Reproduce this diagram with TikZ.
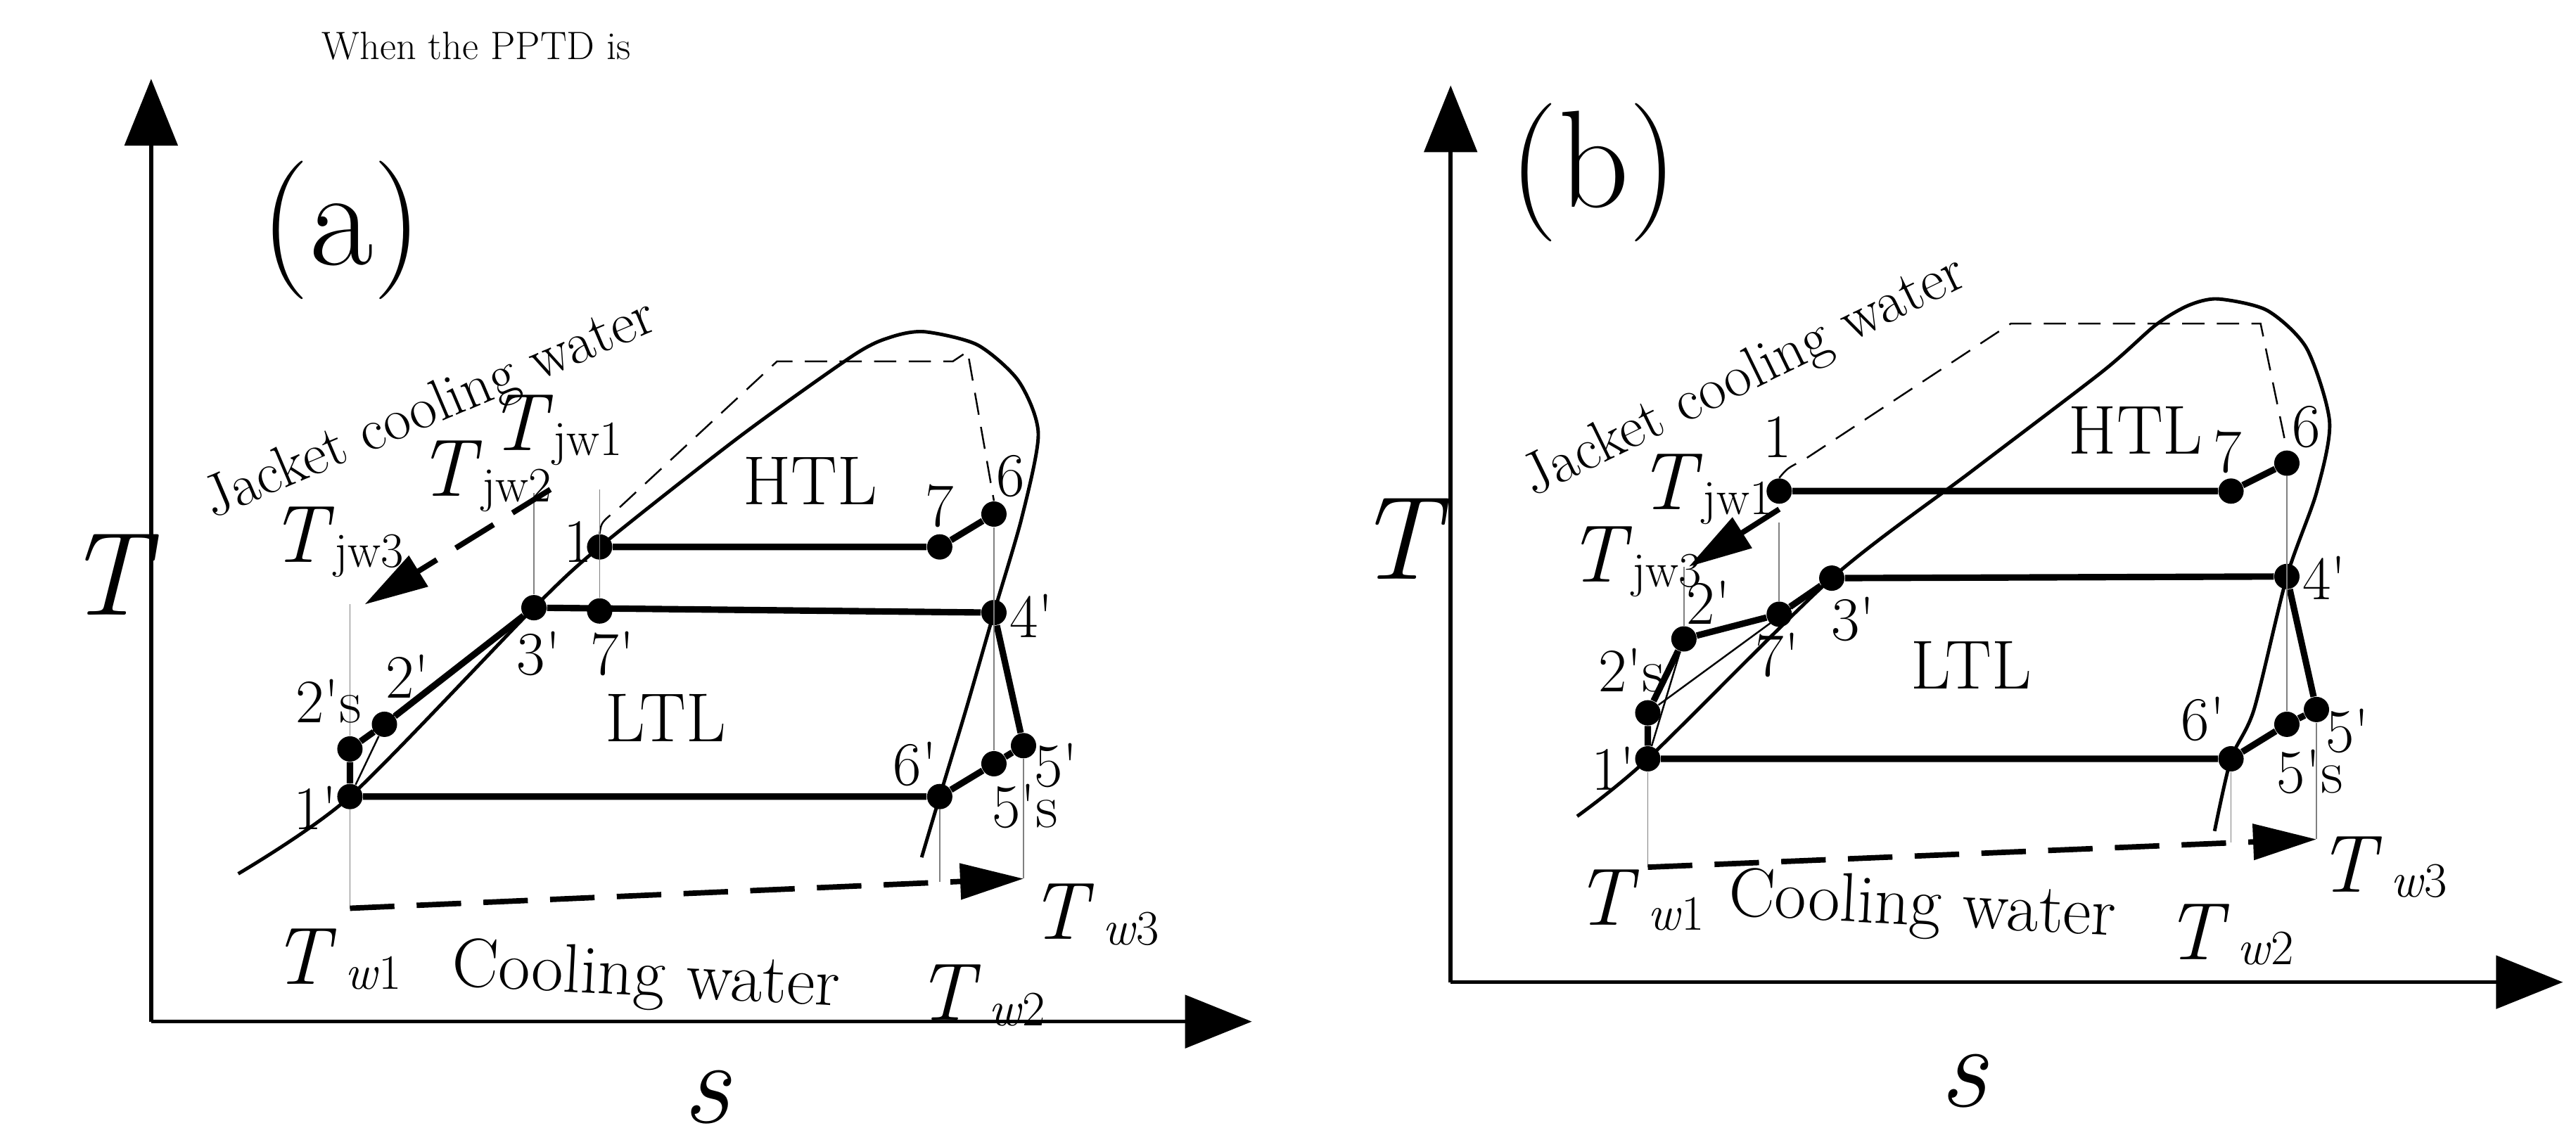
\documentclass[tikz,border=0pt]{standalone}
\usetikzlibrary{arrows.meta}
\begin{document}
\begin{tikzpicture}[x=0.02335cm,y=-0.02335cm,
  thin/.style={line width=0.7pt},
  faint/.style={line width=0.5pt,gray},
  bold/.style={line width=2.6pt},
  dot/.style={circle,fill=black,inner sep=0pt,minimum size=0.36cm},
  lab/.style={font=\fontsize{25}{25}\selectfont,inner sep=1pt},
  big/.style={font=\fontsize{28}{28}\selectfont,inner sep=1pt},
  axis/.style={line width=1.6pt,-{Triangle[length=0.95cm,width=0.75cm]}},
  wat/.style={line width=2.2pt,dash pattern=on 18pt off 9pt,-{Triangle[length=0.9cm,width=0.5cm]}}]
\useasboundingbox (0,0) rectangle (1568,698);
\newcommand{\pr}{\textquotesingle}
\newcommand{\Tj}[1]{{\fontsize{33}{33}\selectfont\textit{T}}\raisebox{-0.5ex}{\fontsize{20}{20}\selectfont jw#1}}
\newcommand{\Tw}[1]{{\fontsize{33}{33}\selectfont\textit{T}}\raisebox{-0.5ex}{\fontsize{20}{20}\selectfont\,\textit{w}#1}}
\node[font=\fontsize{16}{16}\selectfont] (title) at (290,28) {When the PPTD is};
% ================= (a) =================
\coordinate (oa) at (92,622);
\coordinate (ya) at (92,48);
\coordinate (xa) at (762,622);
\draw[axis] (oa) -- (ya);
\draw[axis] (oa) -- (xa);
\node[font=\fontsize{48}{48}\selectfont\itshape] (Ta) at (65,350) {T};
\node[font=\fontsize{48}{48}\selectfont\itshape] (sa) at (430,668) {s};
\node[font=\fontsize{56}{56}\selectfont] (pa) at (208,140) {(a)};
% points
\node[dot] (a1) at (365,333) {};
\node[dot] (a7) at (572,333) {};
\node[dot] (a6) at (605,313) {};
\node[dot] (a4) at (605,373) {};
\node[dot] (a3) at (325,370) {};
\node[dot] (a7p) at (365,372) {};
\node[dot] (a2) at (234,441) {};
\node[dot] (a2s) at (213,456) {};
\node[dot] (a1p) at (213,485) {};
\node[dot] (a6p) at (572,485) {};
\node[dot] (a5s) at (605,465) {};
\node[dot] (a5) at (623,454) {};
% dome
\draw[line width=1.4pt] plot[smooth,tension=0.45] coordinates {(145,532) (213,485) (325,370) (365,333) (450,266) (520,216) (543,205) (563,202) (595,210) (620,232) (632,264) (622,315) (605,373) (588,432) (572,485) (561,522)};
% jacket dashed
\draw[thin,dash pattern=on 9pt off 5pt] (a1.north) .. controls (366,318) .. (376,310) -- (473,220) -- (580,220) -- (589,214) -- (a6.north);
% cycles
\draw[bold] (a1) -- (a7) -- (a6);
\draw[bold] (a3) -- (a4);
\draw[bold] (a4) -- (a5) -- (a5s) -- (a6p);
\draw[bold] (a6p) -- (a1p) -- (a2s) -- (a2) -- (a3);
\draw[thin] (a1p) -- (a2);
\draw[thin] (a2s) -- (a3);
\draw[faint] (a6) -- (a5s);
\coordinate (a1t) at (365,298);
\draw[faint] (a7p) -- (a1t);
\coordinate (a3t) at (325,300);
\draw[faint] (a3) -- (a3t);
\coordinate (a2t) at (213,368);
\draw[faint] (a2s) -- (a2t);
\coordinate (aw1) at (213,553);
\coordinate (aw3) at (623,535);
\coordinate (aw2) at (572,537);
\draw[faint] (a1p) -- (aw1);
\draw[faint] (a5) -- (aw3);
\draw[faint] (a6p) -- (aw2);
\draw[wat] (aw1) -- (aw3);
\coordinate (aj0) at (335,298);
\coordinate (aj1) at (222,368);
\draw[wat] (aj0) -- (aj1);
% labels
\node[lab] at (352,330) {1};
\node[lab] at (572,308) {7};
\node[lab] at (615,290) {6};
\node[lab] at (628,375) {4\pr};
\node[lab] at (328,398) {3\pr};
\node[lab] at (373,398) {7\pr};
\node[lab] at (248,412) {2\pr};
\node[lab] at (200,427) {2\pr s};
\node[lab] at (192,492) {1\pr};
\node[lab] at (557,465) {6\pr};
\node[lab] at (624,491) {5\pr s};
\node[lab] at (643,466) {5\pr};
\node[big] at (493,293) {HTL};
\node[big] at (405,437) {LTL};
\node at (205,584) {\Tw{1}};
\node at (597,606) {\Tw{2}};
\node at (666,557) {\Tw{3}};
\node at (338,262) {\Tj{1}};
\node at (295,290) {\Tj{2}};
\node at (205,330) {\Tj{3}};
\node[font=\fontsize{28}{28}\selectfont,rotate=-3] at (393,596) {Cooling water};
\node[font=\fontsize{24}{24}\selectfont,rotate=23] at (262,250) {Jacket cooling water};
% ================= (b) =================
\coordinate (ob) at (883,598);
\coordinate (yb) at (883,52);
\coordinate (xb) at (1560,598);
\draw[axis] (ob) -- (yb);
\draw[axis] (ob) -- (xb);
\node[font=\fontsize{48}{48}\selectfont\itshape] (Tb) at (850,328) {T};
\node[font=\fontsize{48}{48}\selectfont\itshape] (sb) at (1195,658) {s};
\node[font=\fontsize{56}{56}\selectfont] (pb) at (970,105) {(b)};
\node[dot] (b1) at (1083,299) {};
\node[dot] (b7) at (1358,299) {};
\node[dot] (b6) at (1392,282) {};
\node[dot] (b4) at (1392,351) {};
\node[dot] (b3) at (1115,352) {};
\node[dot] (b7p) at (1083,374) {};
\node[dot] (b2) at (1025,389) {};
\node[dot] (b2s) at (1003,434) {};
\node[dot] (b1p) at (1003,462) {};
\node[dot] (b6p) at (1358,462) {};
\node[dot] (b5s) at (1392,441) {};
\node[dot] (b5) at (1410,432) {};
\draw[line width=1.4pt] plot[smooth,tension=0.45] coordinates {(960,497) (1003,462) (1115,352) (1200,287) (1280,226) (1312,198) (1332,186) (1350,182) (1380,189) (1404,212) (1418,257) (1410,300) (1392,351) (1372,432) (1358,462) (1348,506)};
\draw[thin,dash pattern=on 9pt off 5pt] (b1.north) .. controls (1088,285) .. (1098,280) -- (1224,197) -- (1376,197) -- (b6.north);
\draw[bold] (b1) -- (b7) -- (b6);
\draw[bold] (b3) -- (b4);
\draw[bold] (b4) -- (b5) -- (b5s) -- (b6p);
\draw[bold] (b6p) -- (b1p) -- (b2s) -- (b2) -- (b7p) -- (b3);
\draw[thin] (b1p) -- (b2);
\draw[thin] (b2s) -- (b3);
\draw[faint] (b6) -- (b5s);
\coordinate (b1t) at (1083,318);
\draw[faint] (b7p) -- (b1t);
\coordinate (b2t) at (1025,345);
\draw[faint] (b2) -- (b2t);
\coordinate (bw1) at (1003,528);
\coordinate (bw3) at (1410,511);
\coordinate (bw2) at (1358,513);
\draw[faint] (b1p) -- (bw1);
\draw[faint] (b5) -- (bw3);
\draw[faint] (b6p) -- (bw2);
\draw[wat] (bw1) -- (bw3);
\coordinate (bj0) at (1083,310);
\coordinate (bj1) at (1028,345);
\draw[wat] (bj0) -- (bj1);
\node[lab] at (1082,266) {1};
\node[lab] at (1356,275) {7};
\node[lab] at (1404,260) {6};
\node[lab] at (1415,352) {4\pr};
\node[lab] at (1128,377) {3\pr};
\node[lab] at (1082,399) {7\pr};
\node[lab] at (1040,367) {2\pr};
\node[lab] at (993,408) {2\pr s};
\node[lab] at (982,468) {1\pr};
\node[lab] at (1341,438) {6\pr};
\node[lab] at (1406,470) {5\pr s};
\node[lab] at (1429,445) {5\pr};
\node[big] at (1300,262) {HTL};
\node[big] at (1200,405) {LTL};
\node at (998,548) {\Tw{1}};
\node at (1357,569) {\Tw{2}};
\node at (1450,528) {\Tw{3}};
\node at (1038,298) {\Tj{1}};
\node at (995,342) {\Tj{3}};
\node[font=\fontsize{28}{28}\selectfont,rotate=-3] at (1170,553) {Cooling water};
\node[font=\fontsize{24}{24}\selectfont,rotate=26] at (1062,230) {Jacket cooling water};
\end{tikzpicture}
\end{document}
